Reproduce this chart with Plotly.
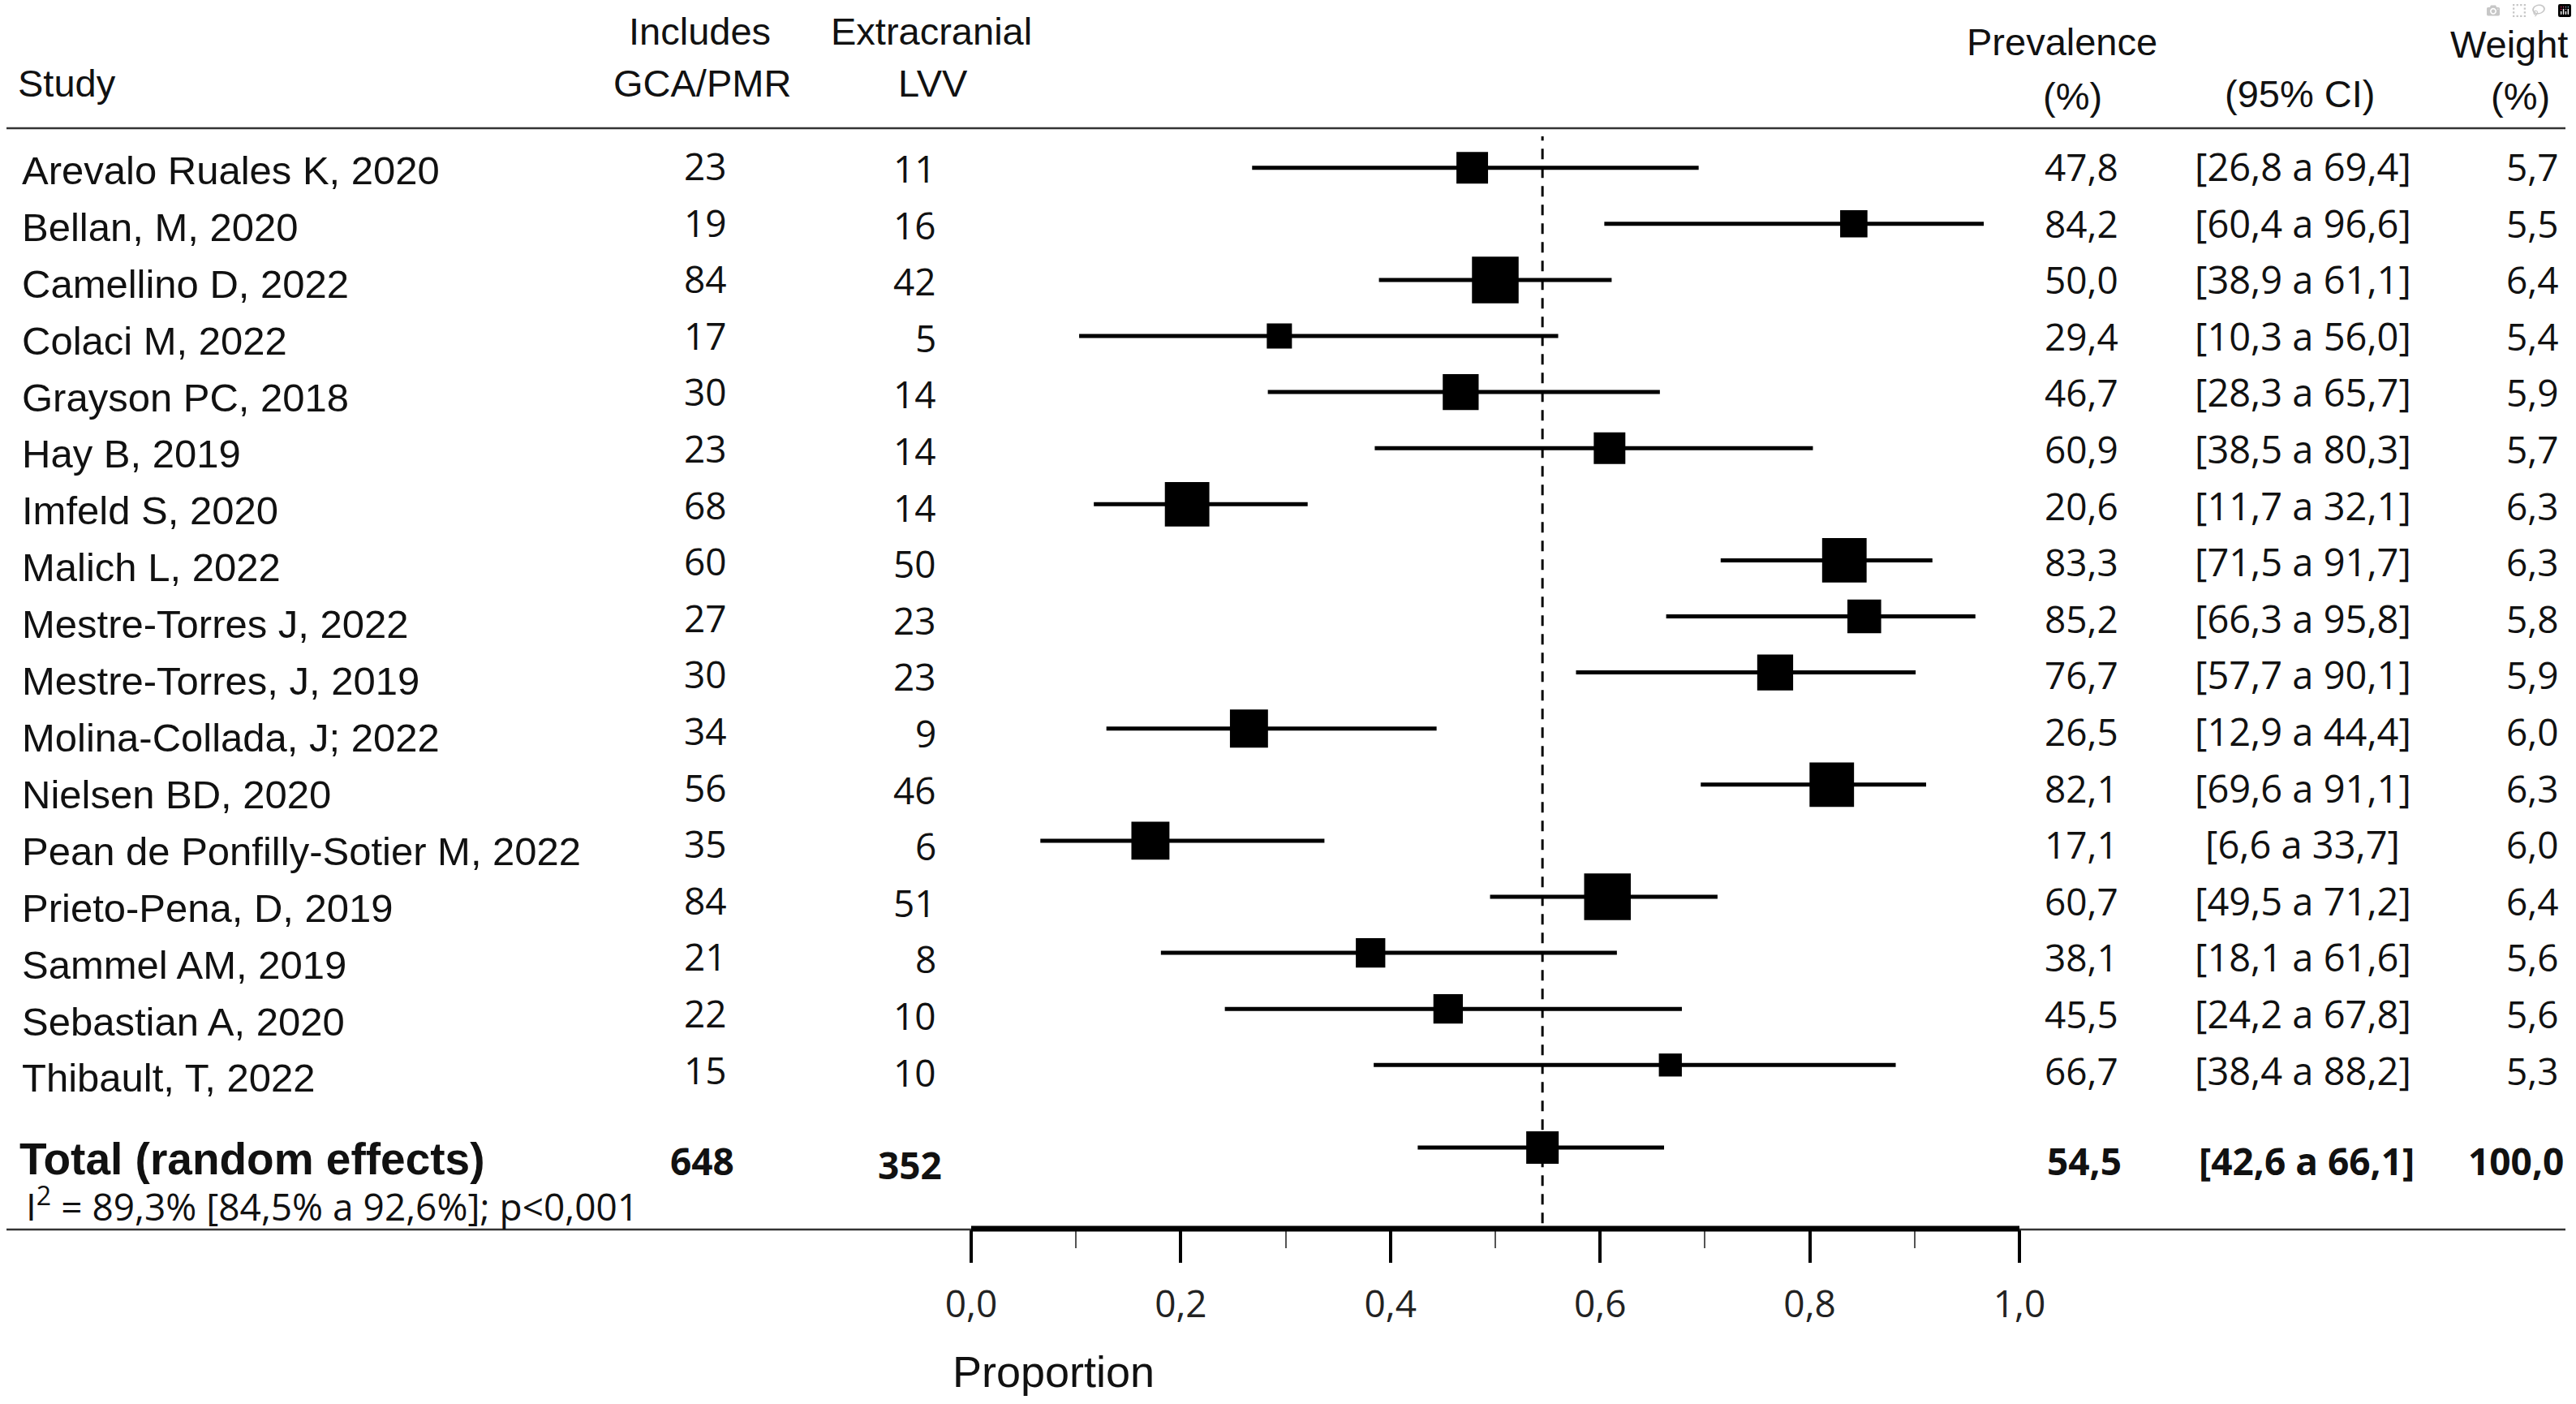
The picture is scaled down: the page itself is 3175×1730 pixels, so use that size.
import plotly.graph_objects as go

# ---------------- data ----------------
studies = [
    "Arevalo Ruales K, 2020", "Bellan, M, 2020", "Camellino D, 2022", "Colaci M, 2022",
    "Grayson PC, 2018", "Hay B, 2019", "Imfeld S, 2020", "Malich L, 2022",
    "Mestre-Torres J, 2022", "Mestre-Torres, J, 2019", "Molina-Collada, J; 2022",
    "Nielsen BD, 2020", "Pean de Ponfilly-Sotier M, 2022", "Prieto-Pena, D, 2019",
    "Sammel AM, 2019", "Sebastian A, 2020", "Thibault, T, 2022",
]
gca_pmr = [23, 19, 84, 17, 30, 23, 68, 60, 27, 30, 34, 56, 35, 84, 21, 22, 15]
extra_lvv = [11, 16, 42, 5, 14, 14, 14, 50, 23, 23, 9, 46, 6, 51, 8, 10, 10]
prevalence = [47.8, 84.2, 50.0, 29.4, 46.7, 60.9, 20.6, 83.3, 85.2, 76.7, 26.5, 82.1, 17.1, 60.7, 38.1, 45.5, 66.7]
ci_low = [26.8, 60.4, 38.9, 10.3, 28.3, 38.5, 11.7, 71.5, 66.3, 57.7, 12.9, 69.6, 6.6, 49.5, 18.1, 24.2, 38.4]
ci_high = [69.4, 96.6, 61.1, 56.0, 65.7, 80.3, 32.1, 91.7, 95.8, 90.1, 44.4, 91.1, 33.7, 71.2, 61.6, 67.8, 88.2]
weight = [5.7, 5.5, 6.4, 5.4, 5.9, 5.7, 6.3, 6.3, 5.8, 5.9, 6.0, 6.3, 6.0, 6.4, 5.6, 5.6, 5.3]

total_label = "Total (random effects)"
total_gca = 648
total_lvv = 352
total_prev = 54.5
total_ci_low = 42.6
total_ci_high = 66.1
total_weight = 100.0
heterogeneity = "I<sup>2</sup> = 89,3% [84,5% a 92,6%]; p<0,001"

tick_vals = [0.0, 0.2, 0.4, 0.6, 0.8, 1.0]
tick_text = ["0,0", "0,2", "0,4", "0,6", "0,8", "1,0"]
minor_vals = [0.1, 0.3, 0.5, 0.7, 0.9]
x_title = "Proportion"

# ---------------- layout helpers ----------------
W, H = 3175, 1730
ARIAL = "Liberation Sans, Arial, sans-serif"
CAL = "Open Sans, sans-serif"


def fx(p):
    return p / W


def fy(p):
    return 1 - p / H


def fmt(v):
    return f"{v:.1f}".replace(".", ",")


ROW0, DROW = 206.7, 69.1          # pixel centre of first row, row pitch
Y_TOP, Y_AXIS = 168, 1514         # top of plot area, axis line
X0, XS = 1197, 1292               # pixel of proportion 0, pixels per unit
n = len(studies)
TOTAL_ROW = n + 0.47
r_top = (Y_TOP - ROW0) / DROW
r_bot = (Y_AXIS - ROW0) / DROW

fig = go.Figure()

sizes = [31 + 26.5 * (w - 5.4) for w in weight]
fig.add_trace(go.Scatter(
    x=[p / 100 for p in prevalence], y=list(range(n)), mode="markers",
    marker=dict(symbol="square", size=sizes, color="black", opacity=1, line=dict(width=0)),
    error_x=dict(type="data", symmetric=False,
                 array=[(h - p) / 100 for h, p in zip(ci_high, prevalence)],
                 arrayminus=[(p - l) / 100 for p, l in zip(prevalence, ci_low)],
                 thickness=5, width=0, color="black"),
    hoverinfo="skip", showlegend=False,
))
fig.add_trace(go.Scatter(
    x=[total_prev / 100], y=[TOTAL_ROW], mode="markers",
    marker=dict(symbol="square", size=40, color="black", opacity=1, line=dict(width=0)),
    error_x=dict(type="data", symmetric=False,
                 array=[(total_ci_high - total_prev) / 100],
                 arrayminus=[(total_prev - total_ci_low) / 100],
                 thickness=5, width=0, color="black"),
    hoverinfo="skip", showlegend=False,
))

ann = []


def add(text, xp, y, xanchor="center", font=ARIAL, size=47, bold=False, yref="y", yshift=0, color="#111"):
    ann.append(dict(
        text=f"<b>{text}</b>" if bold else text,
        x=fx(xp), xref="paper",
        y=y if yref == "y" else fy(y), yref=yref,
        xanchor=xanchor, yanchor="middle", showarrow=False, yshift=yshift,
        font=dict(family=font, size=size, color=color),
    ))


# headers
add("Study", 20, 103, xanchor="left", yref="paper")
add("Includes", 862, 38, yref="paper")
add("GCA/PMR", 866, 102, yref="paper")
add("Extracranial", 1148, 38, yref="paper")
add("LVV", 1150, 102, yref="paper")
add("Prevalence", 2541, 52, yref="paper")
add("(%)", 2554, 119, yref="paper")
add("(95% CI)", 2834, 116, yref="paper")
add("Weight", 3092, 55, yref="paper")
add("(%)", 3106, 119, yref="paper")

# study rows
for i in range(n):
    add(studies[i], 25, i, xanchor="left", size=49, yshift=-(3.3 + 0.8 * i))
    add(str(gca_pmr[i]), 869, i, font=CAL, size=46, yshift=(2.7 - 0.5 * i))
    add(str(extra_lvv[i]), 1156, i, xanchor="right", font=CAL, size=46, yshift=-(0.3 + 0.5 * i))
    add(fmt(prevalence[i]), 2613, i, xanchor="right", font=CAL, size=46, yshift=(1.7 - 0.5 * i))
    add(f"[{fmt(ci_low[i])} a {fmt(ci_high[i])}]", 2838, i, font=CAL, size=47, yshift=(1.7 - 0.5 * i))
    add(fmt(weight[i]), 3156, i, xanchor="right", font=CAL, size=46, yshift=(1.7 - 0.5 * i))

# total row
add(total_label, 22, TOTAL_ROW, xanchor="left", size=55, bold=True, yshift=-14)
add(str(total_gca), 866, TOTAL_ROW, font=CAL, size=46, bold=True, yshift=-16)
add(str(total_lvv), 1163, TOTAL_ROW, xanchor="right", font=CAL, size=46, bold=True, yshift=-21)
add(fmt(total_prev), 2617, TOTAL_ROW, xanchor="right", font=CAL, size=46, bold=True, yshift=-16)
add(f"[{fmt(total_ci_low)} a {fmt(total_ci_high)}]", 2843, TOTAL_ROW, font=CAL, size=46, bold=True, yshift=-16)
add(fmt(total_weight), 3162, TOTAL_ROW, xanchor="right", font=CAL, size=46, bold=True, yshift=-16)

add(heterogeneity, 30, 1484, xanchor="left", font=CAL, size=46, yref="paper")
add(x_title, 1298, 1690, size=54, yref="paper")

shapes = [
    dict(type="line", xref="paper", yref="paper", x0=fx(8), x1=fx(3162), y0=fy(158), y1=fy(158),
         line=dict(color="#333", width=2.5)),
    dict(type="line", xref="paper", yref="paper", x0=fx(8), x1=fx(3162), y0=fy(1515), y1=fy(1515),
         line=dict(color="#333", width=2.5)),
    dict(type="line", xref="x", yref="paper", x0=tick_vals[0], x1=tick_vals[-1], y0=fy(1514), y1=fy(1514),
         line=dict(color="black", width=7)),
    dict(type="line", xref="x", yref="y domain", x0=total_prev / 100, x1=total_prev / 100, y0=0.005, y1=1,
         line=dict(color="black", width=3, dash="13px,10px")),
]

fig.update_layout(
    width=W, height=H, autosize=False,
    margin=dict(l=0, r=0, t=0, b=0),
    paper_bgcolor="white", plot_bgcolor="white",
    annotations=ann, shapes=shapes, showlegend=False,
    xaxis=dict(
        range=[-X0 / XS, (W - X0) / XS], domain=[0, 1],
        showgrid=False, zeroline=False, showline=False,
        tickmode="array", tickvals=tick_vals, ticktext=tick_text,
        ticks="outside", ticklen=41, tickwidth=4, tickcolor="black",
        tickfont=dict(family=CAL, size=46, color="#222"),
        ticklabelstandoff=12,
        minor=dict(tickmode="array", tickvals=minor_vals, ticks="outside",
                   ticklen=23, tickwidth=2, tickcolor="#555"),
        fixedrange=True,
    ),
    yaxis=dict(
        range=[r_bot, r_top], domain=[fy(Y_AXIS), fy(Y_TOP)],
        visible=False, fixedrange=True,
    ),
)

fig.write_html("out.html", post_script="document.body.style.margin='0';")
